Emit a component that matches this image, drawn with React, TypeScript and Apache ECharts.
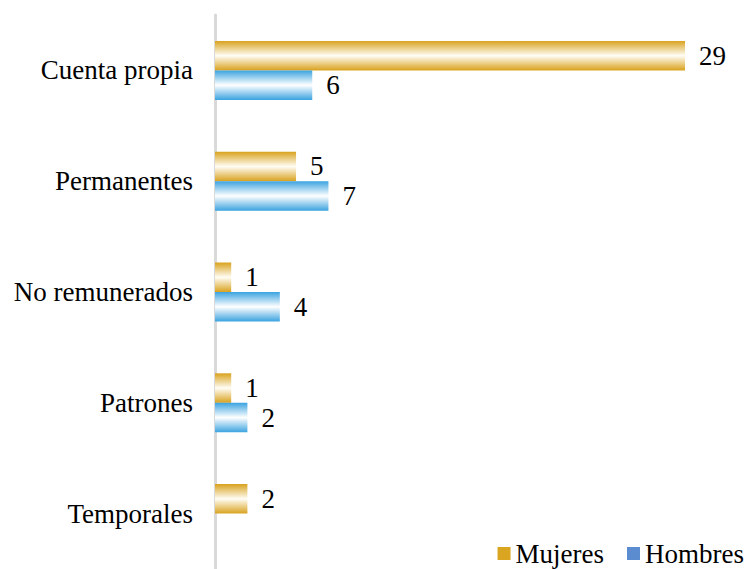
import React, { useEffect, useRef } from "react";
import * as echarts from "echarts";

const categories = ["Cuenta propia", "Permanentes", "No remunerados", "Patrones", "Temporales"];
const mujeres = [29, 5, 1, 1, 2];
const hombres: (number | null)[] = [6, 7, 4, 2, null];

const gold = new echarts.graphic.LinearGradient(0, 0, 0, 1, [
  { offset: 0, color: "#D9A21E" },
  { offset: 0.5, color: "#FFFDF5" },
  { offset: 1, color: "#D9A21E" },
]);
const blue = new echarts.graphic.LinearGradient(0, 0, 0, 1, [
  { offset: 0, color: "#3BA3E0" },
  { offset: 0.5, color: "#FFFFFF" },
  { offset: 1, color: "#3BA3E0" },
]);

export default function App() {
  const ref = useRef<HTMLDivElement>(null);
  useEffect(() => {
    const chart = echarts.init(ref.current!, null, { renderer: "svg" });
    const font = "Liberation Serif";
    chart.setOption({
      animation: false,
      textStyle: { fontFamily: font },
      grid: { left: 215, top: 15, width: 470, height: 561, containLabel: false },
      legend: {
        right: 6,
        top: 539,
        padding: 0,
        itemWidth: 13,
        itemHeight: 13,
        itemGap: 23,
        itemTextGap: 6,
        icon: "rect",
        textStyle: { fontFamily: font, fontSize: 27, color: "#000", lineHeight: 29 },
        data: [
          { name: "Mujeres", itemStyle: { color: "#DAA520" } },
          { name: "Hombres", itemStyle: { color: "#5B8CD0" } },
        ],
      },
      xAxis: {
        type: "value",
        min: 0,
        max: 29,
        show: false,
      },
      yAxis: {
        type: "category",
        data: categories,
        inverse: true,
        axisLine: { show: true, lineStyle: { color: "#d9d9d9", width: 3 } },
        axisTick: { show: false },
        axisLabel: { fontFamily: font, fontSize: 27, color: "#000", margin: 22 },
      },
      series: [
        {
          name: "Mujeres",
          type: "bar",
          data: mujeres,
          barWidth: 29.5,
          barGap: "0%",
          itemStyle: { color: gold },
          label: { show: true, position: "right", distance: 14, fontFamily: font, fontSize: 27, color: "#000", textBorderWidth: 0 },
        },
        {
          name: "Hombres",
          type: "bar",
          data: hombres,
          barWidth: 29.5,
          barGap: "0%",
          itemStyle: { color: blue },
          label: { show: true, position: "right", distance: 14, fontFamily: font, fontSize: 27, color: "#000", textBorderWidth: 0 },
        },
      ],
    });
    return () => chart.dispose();
  }, []);
  return <div ref={ref} style={{ width: 750, height: 569, position: "absolute", left: 0, top: 0 }} />;
}
